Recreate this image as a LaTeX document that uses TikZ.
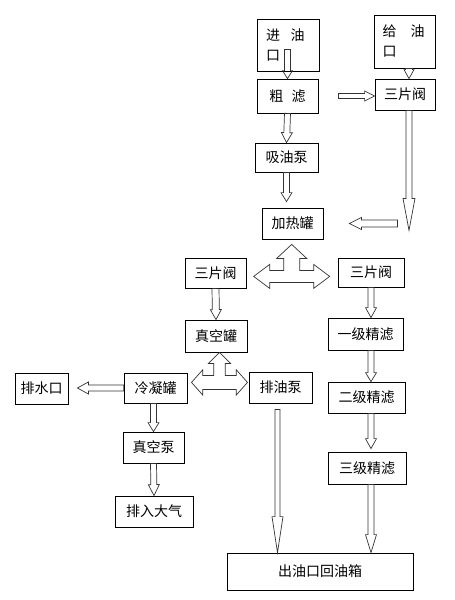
\documentclass[tikz,border=0pt]{standalone}
\usepackage{fontspec}
\newfontfamily\cjk{Noto Sans CJK SC}
\usetikzlibrary{calc}

\newcommand\hollowarrow[5]{%
  \draw[hollow] ($(#1)!#3!90:(#2)$) -- ($(#2)!#5!(#1)!#3!-90:(#1)$)
    -- ($(#2)!#5!(#1)!#4!-90:(#1)$) -- (#2)
    -- ($(#2)!#5!(#1)!#4!90:(#1)$) -- ($(#2)!#5!(#1)!#3!90:(#1)$)
    -- ($(#1)!#3!-90:(#2)$) -- cycle;}

\begin{document}
\begin{tikzpicture}[x=1pt,y=-1pt]
\tikzstyle{box} = [draw,line width=0.8pt,inner sep=1pt,minimum width=61pt,minimum height=31pt,font=\cjk\fontsize{14pt}{20pt}\selectfont]
\tikzstyle{hollow} = [draw=black!80,line width=0.7pt,line join=miter]

\useasboundingbox (0,0) rectangle (455,600);

\node[box,minimum width=62pt,minimum height=52pt,text width=44pt,align=left] (in) at (288,45) {进\hspace{0.75em}油\\口};
\node[box,minimum height=53pt,text width=44pt,align=left] (feed) at (404.5,41.5) {给\hspace{1em}油\\口};
\node[box,minimum height=34pt] (coarse) at (287.5,96) {粗\hspace{0.6em}滤};
\node[box,minimum width=60pt] (valve1) at (405,94.5) {三片阀};
\node[box,minimum width=63pt,minimum height=29pt] (pump) at (286.5,157.5) {吸油泵};
\node[box] (heat) at (292.5,223.5) {加热罐};
\node[box,minimum height=30pt] (valveA) at (215.5,273) {三片阀};
\node[box,minimum width=66pt,minimum height=29pt] (valveB) at (371,272.5) {三片阀};
\node[box,minimum width=62pt,minimum height=32pt] (vac) at (216,336) {真空罐};
\node[box,minimum width=75pt,minimum height=32pt] (fine1) at (365.5,334) {一级精滤};
\node[box,minimum width=53pt] (drain) at (41.5,388.5) {排水口};
\node[box,minimum width=63pt,minimum height=30pt] (cond) at (155.5,388) {冷凝罐};
\node[box,minimum width=63pt] (oilpump) at (280.5,387.5) {排油泵};
\node[box,minimum width=77pt] (fine2) at (366.5,397.5) {二级精滤};
\node[box] (vpump) at (153.5,447.5) {真空泵};
\node[box,minimum width=78pt,minimum height=32pt] (fine3) at (367,468) {三级精滤};
\node[box,minimum width=78pt] (atm) at (154,511.5) {排入大气};
\node[box,minimum width=186pt,minimum height=37pt] (out) at (320,571.5) {出油口回油箱};

\coordinate (instart) at ($(in.south)+(-0.5,-22)$);
\coordinate (feedout) at ($(feed.south)+(4.5,0)$);
\coordinate (valvein) at (feedout |- valve1.north);
\coordinate (valveout) at (feedout |- valve1.south);
\coordinate (sidedown) at ($(valveout)+(0,120)$);
\coordinate (sidefrom) at ($(heat.east)+(74,0)$);
\coordinate (sideto) at ($(heat.east)+(26,0)$);
\coordinate (coarseout) at ($(coarse.east)+(20,0)$);
\coordinate (coarsein) at (valve1.west |- coarseout);
\coordinate (heatin) at ($(pump.south |- heat.north)+(0,-6)$);
\coordinate (tee1) at ($(heat.south)+(-0.8,37)$);
\coordinate (tee2) at ($(vac.south)+(3.5,30)$);
\coordinate (fineA) at (valveB.south |- fine1.north);
\coordinate (fineB) at (valveB.south |- fine1.south);
\coordinate (fineC) at (valveB.south |- fine2.north);
\coordinate (fineD) at (valveB.south |- fine2.south);
\coordinate (fineE) at ($(valveB.south |- fine3.north)+(0,-3)$);
\coordinate (fineF) at (valveB.south |- fine3.south);
\coordinate (fineG) at (valveB.south |- out.north);
\coordinate (pumpout) at ($(oilpump.south)+(-3,6)$);
\coordinate (pumpin) at (pumpout |- out.north);
\coordinate (drainin) at ($(drain.east |- cond.west)+(9,0)$);
\coordinate (condlow) at (vpump.north |- cond.south);

\hollowarrow{instart}{coarse.north}{3pt}{5pt}{8pt}
\hollowarrow{feedout}{valvein}{3.5pt}{5pt}{9pt}
\hollowarrow{coarseout}{coarsein}{2.5pt}{5pt}{10pt}
\hollowarrow{coarse.south}{pump.north}{3pt}{5.5pt}{10pt}
\hollowarrow{pump.south}{heatin}{3pt}{5.5pt}{9pt}
\hollowarrow{valveout}{sidedown}{3pt}{6pt}{32pt}
\hollowarrow{sidefrom}{sideto}{3.5pt}{6pt}{12pt}
\hollowarrow{valveA.south}{vac.north}{3.5pt}{5.5pt}{10pt}
\hollowarrow{valveB.south}{fineA}{3pt}{5.5pt}{10pt}
\hollowarrow{fineB}{fineC}{3pt}{5.5pt}{9pt}
\hollowarrow{fineD}{fineE}{3pt}{5.5pt}{10pt}
\hollowarrow{fineF}{fineG}{3pt}{5.5pt}{18pt}
\hollowarrow{pumpout}{pumpin}{2.5pt}{5.5pt}{36pt}
\hollowarrow{cond.west}{drainin}{3pt}{6pt}{11pt}
\hollowarrow{condlow}{vpump.north}{3pt}{5.5pt}{9pt}
\hollowarrow{vpump.south}{atm.north}{3pt}{5.5pt}{11pt}

\draw[hollow,shift={(tee1)}] (0,-32) -- (15,-18) -- (8,-18) -- (8,-6) -- (22,-6) -- (22,-12) -- (38,0)
  -- (22,12) -- (22,6) -- (-22,6) -- (-22,12) -- (-38,0) -- (-22,-12) -- (-22,-6) -- (-8,-6)
  -- (-8,-18) -- (-15,-18) -- cycle;
\draw[hollow,shift={(tee2)}] (0,-30) -- (11,-19) -- (5.7,-19) -- (5.7,-7) -- (16.7,-7) -- (16.7,-12.7) -- (28,0)
  -- (16.7,12.7) -- (16.7,7) -- (-16.7,7) -- (-16.7,12.7) -- (-28,0) -- (-16.7,-12.7) -- (-16.7,-7) -- (-5.7,-7)
  -- (-5.7,-19) -- (-11,-19) -- cycle;

\end{tikzpicture}
\end{document}
